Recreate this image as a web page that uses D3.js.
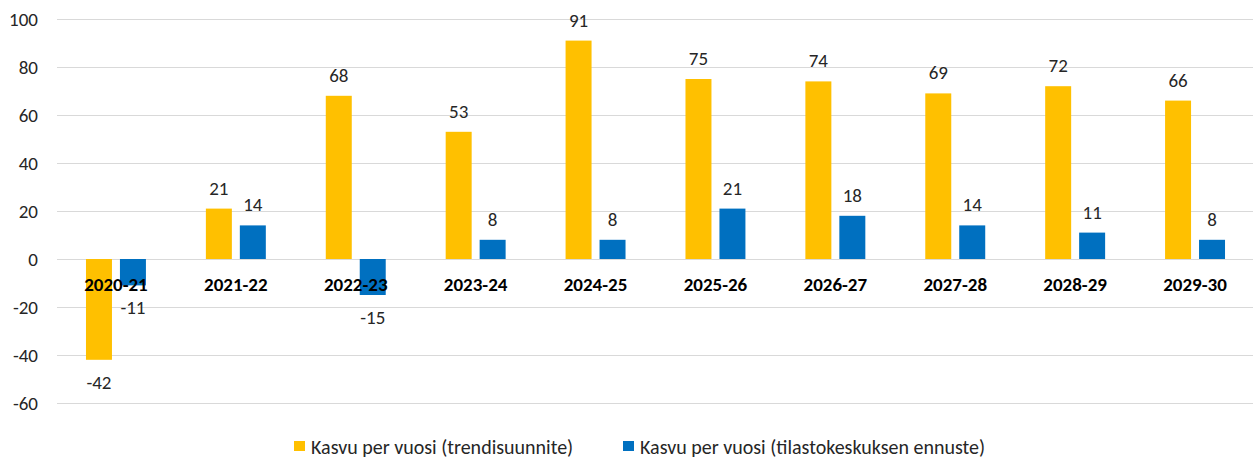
<!DOCTYPE html>
<html>
<head>
<meta charset="utf-8">
<script src="https://cdn.jsdelivr.net/npm/d3@7"></script>
<style>
  body { margin: 0; background: #fff; }
  svg { display: block; font-family: Carlito, "Liberation Sans", Arial, sans-serif; }
</style>
</head>
<body>
<svg></svg>
<script>
var width = 1253, height = 458;

var categories = ['2020-21', '2021-22', '2022-23', '2023-24', '2024-25',
                  '2025-26', '2026-27', '2027-28', '2028-29', '2029-30'];
var trendValues = [-42, 21, 68, 53, 91, 75, 74, 69, 72, 66];
var forecastValues = [-11, 14, -15, 8, 8, 21, 18, 14, 11, 8];
var seriesNames = ['Kasvu per vuosi (trendisuunnite)', 'Kasvu per vuosi (tilastokeskuksen ennuste)'];
var seriesColors = ['#FFC000', '#0070C0'];
var yTicks = [-60, -40, -20, 0, 20, 40, 60, 80, 100];

var series = [trendValues, forecastValues];

var svg = d3.select('svg')
    .attr('width', width)
    .attr('height', height);

var x0 = d3.scaleBand().domain(categories).range([56, 1255]);
var x1 = d3.scaleBand().domain([0, 1])
    .range([x0.bandwidth() * 0.25, x0.bandwidth() * 0.75])
    .paddingInner(0.235);
var y = d3.scaleLinear().domain([-60, 100]).range([403, 19]);

// gridlines
svg.append('g')
  .selectAll('line').data(yTicks)
  .enter().append('line')
    .attr('x1', 57)
    .attr('x2', width)
    .attr('y1', d => y(d) + 0.5)
    .attr('y2', d => y(d) + 0.5)
    .attr('stroke', '#d9d9d9')
    .attr('stroke-width', 1);

// y tick labels
svg.append('g')
  .selectAll('text').data(yTicks)
  .enter().append('text')
    .attr('x', 38)
    .attr('y', d => y(d))
    .attr('dy', '0.35em')
    .attr('text-anchor', 'end')
    .attr('font-size', 19)
    .attr('fill', '#262626')
    .text(d => d);

// bars
var groups = svg.append('g')
  .selectAll('g').data(categories)
  .enter().append('g')
    .attr('transform', d => `translate(${x0(d)},0)`);

var cells = groups.selectAll('g')
  .data((c, i) => series.map((s, k) => ({ k: k, v: s[i] })))
  .enter().append('g');

cells.append('rect')
    .attr('x', d => x1(d.k))
    .attr('width', x1.bandwidth())
    .attr('y', d => y(Math.max(0, d.v)))
    .attr('height', d => Math.abs(y(d.v) - y(0)))
    .attr('fill', d => seriesColors[d.k]);

// category labels (drawn over bars, like the original)
svg.append('g')
  .selectAll('text').data(categories)
  .enter().append('text')
    .attr('x', d => x0(d) + x0.bandwidth() / 2)
    .attr('y', y(0) + 32)
    .attr('text-anchor', 'middle')
    .attr('font-size', 19)
    .attr('font-weight', 'bold')
    .attr('fill', '#000')
    .text(d => d);

// value labels
cells.append('text')
    .attr('x', d => x1(d.k) + x1.bandwidth() / 2)
    .attr('y', d => d.v >= 0 ? y(d.v) - 14 : y(d.v) + 29)
    .attr('text-anchor', 'middle')
    .attr('font-size', 19)
    .attr('fill', '#262626')
    .text(d => d.v);

// legend
var legendX = [294, 623];
var legend = svg.append('g')
  .selectAll('g').data(seriesNames)
  .enter().append('g')
    .attr('transform', (d, i) => `translate(${legendX[i]},441)`);

legend.append('rect')
    .attr('width', 11)
    .attr('height', 10)
    .attr('fill', (d, i) => seriesColors[i]);

legend.append('text')
    .attr('x', 17)
    .attr('y', 12.5)
    .attr('font-size', 20)
    .attr('fill', '#262626')
    .text(d => d);
</script>
</body>
</html>
